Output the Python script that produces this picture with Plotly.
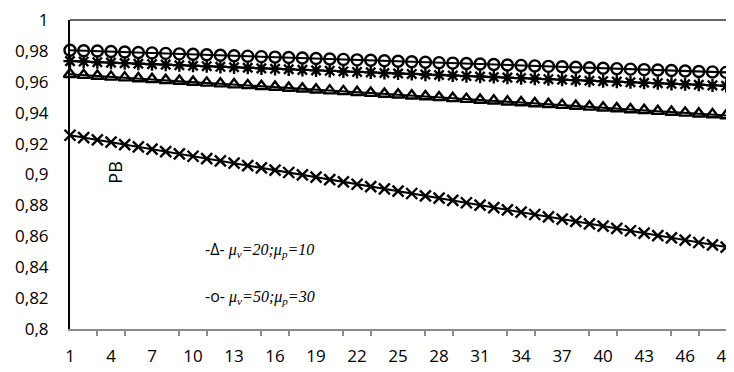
import plotly.graph_objects as go

x_vals = list(range(1, 51))

circles = [0.9804, 0.9801, 0.9799, 0.9796, 0.9793, 0.9790, 0.9787, 0.9784, 0.9781, 0.9778,
           0.9775, 0.9772, 0.9769, 0.9766, 0.9763, 0.9760, 0.9757, 0.9754, 0.9751, 0.9748,
           0.9745, 0.9742, 0.9739, 0.9736, 0.9733, 0.9730, 0.9727, 0.9724, 0.9721, 0.9718,
           0.9715, 0.9712, 0.9709, 0.9706, 0.9703, 0.9700, 0.9697, 0.9694, 0.9691, 0.9688,
           0.9685, 0.9682, 0.9679, 0.9676, 0.9673, 0.9670, 0.9667, 0.9664, 0.9661, 0.9658]

asterisks = [0.9734, 0.9731, 0.9727, 0.9724, 0.9721, 0.9717, 0.9714, 0.9711, 0.9707, 0.9704,
             0.9701, 0.9697, 0.9694, 0.9691, 0.9687, 0.9684, 0.9681, 0.9677, 0.9674, 0.9671,
             0.9667, 0.9664, 0.9661, 0.9657, 0.9654, 0.9651, 0.9647, 0.9644, 0.9641, 0.9637,
             0.9634, 0.9631, 0.9627, 0.9624, 0.9621, 0.9617, 0.9614, 0.9611, 0.9607, 0.9604,
             0.9601, 0.9597, 0.9594, 0.9591, 0.9587, 0.9584, 0.9581, 0.9577, 0.9574, 0.9571]

triangles = [0.9649, 0.9643, 0.9638, 0.9632, 0.9627, 0.9621, 0.9616, 0.9610, 0.9605, 0.9599,
             0.9593, 0.9588, 0.9582, 0.9577, 0.9571, 0.9566, 0.9560, 0.9555, 0.9549, 0.9543,
             0.9538, 0.9532, 0.9527, 0.9521, 0.9516, 0.9510, 0.9505, 0.9499, 0.9493, 0.9488,
             0.9482, 0.9477, 0.9471, 0.9466, 0.9460, 0.9455, 0.9449, 0.9443, 0.9438, 0.9432,
             0.9427, 0.9421, 0.9416, 0.9410, 0.9405, 0.9399, 0.9393, 0.9388, 0.9382, 0.9377]

crosses = [0.9254, 0.9239, 0.9224, 0.9209, 0.9194, 0.9179, 0.9164, 0.9148, 0.9133, 0.9118,
           0.9103, 0.9088, 0.9073, 0.9058, 0.9043, 0.9028, 0.9013, 0.8998, 0.8983, 0.8967,
           0.8952, 0.8937, 0.8922, 0.8907, 0.8892, 0.8877, 0.8862, 0.8847, 0.8832, 0.8817,
           0.8802, 0.8786, 0.8771, 0.8756, 0.8741, 0.8726, 0.8711, 0.8696, 0.8681, 0.8666,
           0.8651, 0.8636, 0.8621, 0.8605, 0.8590, 0.8575, 0.8560, 0.8545, 0.8530, 0.8515]

y_tick_vals = [0.8, 0.82, 0.84, 0.86, 0.88, 0.9, 0.92, 0.94, 0.96, 0.98, 1.0]
y_tick_text = ["0,8", "0,82", "0,84", "0,86", "0,88", "0,9", "0,92", "0,94", "0,96", "0,98", "1"]

legend_lines = [
    ("-Δ- ", "μ<sub>v</sub>=20;μ<sub>p</sub>=10"),
    ("-o- ", "μ<sub>v</sub>=50;μ<sub>p</sub>=30"),
]

series = [
    (circles, "circle-open", 11),
    (asterisks, "asterisk-open", 11),
    (triangles, "triangle-up-open", 11),
    (crosses, "x-thin-open", 11),
]

fig = go.Figure()
for ys, sym, sz in series:
    fig.add_trace(go.Scatter(
        x=x_vals, y=ys, mode="lines+markers",
        line=dict(color="black", width=2),
        marker=dict(symbol=sym, size=sz, color="black", line=dict(color="black", width=2.4)),
        cliponaxis=False, showlegend=False,
    ))

fig.update_layout(
    width=734, height=372,
    margin=dict(l=62, r=0, t=7, b=51),
    plot_bgcolor="white", paper_bgcolor="white",
    font=dict(family="Open Sans", size=17, color="black"),
    xaxis=dict(
        range=[1, 50.16], showgrid=False, zeroline=False,
        showline=True, linecolor="#8a8a8a", linewidth=1.5,
        tickmode="linear", tick0=1, dtick=3, ticks="outside", ticklen=0,
        tickfont=dict(family="Open Sans", size=17, color="black"),
        ticklabelstandoff=11, ticklabeloverflow="allow",
        minor=dict(tickmode="linear", tick0=1, dtick=2, ticks="outside",
                   ticklen=5, tickcolor="#8a8a8a", tickwidth=1.5, showgrid=False),
    ),
    yaxis=dict(
        range=[0.8, 1.0], showgrid=False, zeroline=False,
        showline=True, linecolor="black", linewidth=2,
        tickmode="array", tickvals=y_tick_vals, ticktext=y_tick_text,
        ticks="outside", ticklen=16, tickcolor="rgba(0,0,0,0)",
        tickfont=dict(family="Open Sans", size=17, color="black"),
        ticklabeloverflow="allow",
    ),
    shapes=[dict(type="line", xref="paper", yref="paper", x0=0, x1=1, y0=1, y1=1,
                 line=dict(color="#333333", width=1.5))],
)

fig.add_annotation(text="PB", xref="paper", yref="paper", x=0.067, y=0.506,
                   xanchor="center", yanchor="middle",
                   textangle=-90, showarrow=False,
                   font=dict(family="Open Sans", size=18, color="black"))

for i, (prefix, body) in enumerate(legend_lines):
    yp = [0.258, 0.108][i]
    fig.add_annotation(
        text=prefix + "<span style='font-family:Liberation Serif;font-style:italic'>" + body + "</span>",
        xref="paper", yref="paper", x=0.198, y=yp, xanchor="left", yanchor="middle",
        showarrow=False, font=dict(family="Open Sans", size=16, color="black"))

fig.write_html("out.html")
